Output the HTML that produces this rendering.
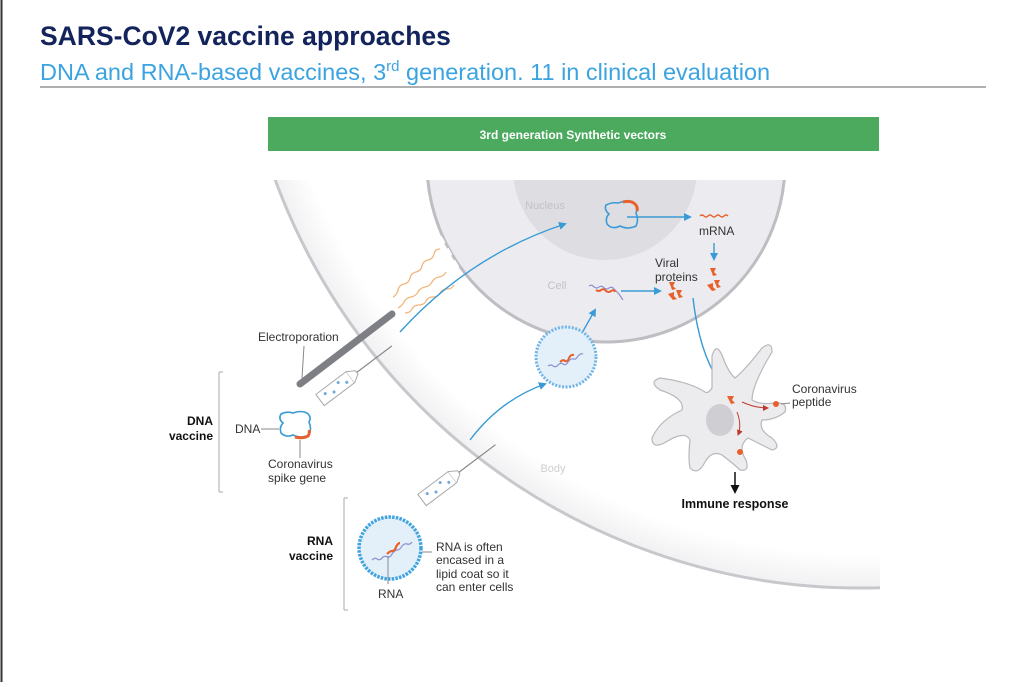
<!DOCTYPE html>
<html><head><meta charset="utf-8"><style>
html,body{margin:0;padding:0;background:#fff;}
body{width:1024px;height:682px;overflow:hidden;position:relative;font-family:"Liberation Sans",sans-serif;}
</style></head><body>
<svg width="1024" height="682" viewBox="0 0 1024 682" xmlns="http://www.w3.org/2000/svg" font-family="Liberation Sans, sans-serif">
<defs>
<clipPath id="ill"><rect x="228" y="180" width="652" height="440"/></clipPath>
<radialGradient id="bodyg" cx="860" cy="-35" r="640" gradientUnits="userSpaceOnUse">
<stop offset="0.92" stop-color="#ffffff"/><stop offset="0.98" stop-color="#efeff1"/><stop offset="1" stop-color="#e6e6e8"/>
</radialGradient>
<marker id="ab" markerWidth="8" markerHeight="8" refX="6" refY="4" orient="auto" markerUnits="userSpaceOnUse"><path d="M0,0 L8,4 L0,8 z" fill="#3a9bd6"/></marker>
<marker id="ak" markerWidth="9" markerHeight="9" refX="6" refY="4.5" orient="auto" markerUnits="userSpaceOnUse"><path d="M0,0 L9,4.5 L0,9 z" fill="#111"/></marker>
<marker id="ar" markerWidth="6" markerHeight="6" refX="5" refY="3" orient="auto" markerUnits="userSpaceOnUse"><path d="M0,0 L6,3 L0,6 z" fill="#c0392b"/></marker>
</defs>
<line x1="1.5" y1="0" x2="1.5" y2="682" stroke="#333" stroke-width="2"/>
<text x="40" y="45" font-size="26.5" font-weight="bold" fill="#13235b">SARS-CoV2 vaccine approaches</text>
<text x="40" y="80" font-size="23.5" fill="#3ba3e0">DNA and RNA-based vaccines, 3<tspan font-size="15" dy="-9">rd</tspan><tspan dy="9"> generation. 11 in clinical evaluation</tspan></text>
<line x1="40" y1="87" x2="986" y2="87" stroke="#b0b0b0" stroke-width="2"/>
<rect x="268" y="117" width="611" height="34" fill="#4caa5e"/>
<text x="573" y="139" font-size="12" font-weight="bold" fill="#fff" text-anchor="middle">3rd generation Synthetic vectors</text>

<g clip-path="url(#ill)">
<circle cx="860" cy="-35" r="623" fill="url(#bodyg)" stroke="#c8c8cc" stroke-width="3"/>
<circle cx="606" cy="163" r="179" fill="#ececf0" stroke="#bdbdc2" stroke-width="3"/>
<circle cx="605" cy="168" r="92" fill="#dedee2"/>
<path d="M432 225 L470 292" stroke="#fff" stroke-width="6" stroke-dasharray="8 6"/>
</g>
<text x="545" y="209" font-size="11" fill="#c2c2c6" text-anchor="middle">Nucleus</text>
<text x="557" y="289" font-size="11" fill="#c2c2c6" text-anchor="middle">Cell</text>
<text x="553" y="472" font-size="11" fill="#cfcfd2" text-anchor="middle">Body</text>

<g fill="none" stroke="#f2b57a" stroke-width="1.3">
<path d="M393 297 q4 -2 5 -7 q1 -5 6 -6 q5 -1 6 -6 q1 -5 6 -6 q5 -1 6 -6 q1 -5 6 -6 q5 -1 6 -6 q1 -5 6 -5"/>
<path d="M398 308 q4 -2 6 -6 q2 -4 7 -5 q5 -1 7 -5 q2 -4 7 -5 q5 -1 7 -5 q2 -4 7 -5 q5 -1 7 -5"/>
<path d="M405 313 q5 0 7 -4 q2 -4 7 -4 q5 0 7 -4 q2 -4 7 -4 q5 0 7 -4 q2 -4 7 -4 q5 0 7 -4"/>
</g>
<line x1="300" y1="384" x2="392" y2="314" stroke="#7d7f84" stroke-width="7" stroke-linecap="round"/>
<text x="258" y="341" font-size="12" fill="#333">Electroporation</text>
<line x1="304" y1="346" x2="302" y2="378" stroke="#888" stroke-width="1"/>
<g transform="translate(336,388) rotate(-37)">
<rect x="-20" y="-7" width="38" height="14" fill="#fff" stroke="#aaa" stroke-width="1"/>
<path d="M18 -7 L26 -2 L26 2 L18 7" fill="#fff" stroke="#aaa"/>
<line x1="26" y1="0" x2="70" y2="0" stroke="#888" stroke-width="1.2"/>
<circle cx="-12" cy="-2" r="1.5" fill="#6fa8dc"/><circle cx="-4" cy="2" r="1.5" fill="#6fa8dc"/><circle cx="5" cy="-3" r="1.5" fill="#6fa8dc"/><circle cx="12" cy="2" r="1.5" fill="#6fa8dc"/>
</g>
<g transform="translate(438,488) rotate(-37)">
<rect x="-20" y="-7" width="38" height="14" fill="#fff" stroke="#aaa" stroke-width="1"/>
<path d="M18 -7 L26 -2 L26 2 L18 7" fill="#fff" stroke="#aaa"/>
<line x1="26" y1="0" x2="72" y2="0" stroke="#888" stroke-width="1.2"/>
<circle cx="-12" cy="-2" r="1.5" fill="#6fa8dc"/><circle cx="-4" cy="2" r="1.5" fill="#6fa8dc"/><circle cx="5" cy="-3" r="1.5" fill="#6fa8dc"/><circle cx="12" cy="2" r="1.5" fill="#6fa8dc"/>
</g>

<g fill="none" stroke="#3a9bd6" stroke-width="1.4" marker-end="url(#ab)">
<path d="M400 332 Q470 255 565 224"/>
<path d="M627 217 L690 217"/>
<path d="M714 243 L714 259"/>
<path d="M621 291 L660 291"/>
<path d="M578 340 L595 310"/>
<path d="M470 440 Q500 400 545 384"/>
<path d="M693 298 Q700 360 726 391"/>
</g>

<path d="M606 205 q6 -3 12 -2 q8 -3 15 0 q6 4 3 10 q3 7 0 13 q-8 4 -16 0 q-8 4 -13 -2 q-2 -6 2 -10 q-5 -4 -3 -9z" fill="none" stroke="#3a9bd6" stroke-width="1.6"/>
<path d="M623 202 q8 -2 12 2 q3 3 2 7" fill="none" stroke="#e8602c" stroke-width="3"/>
<path d="M700 216 q2 -2 4 0 q2 2 4 0 q2 -2 4 0 q2 2 4 0 q2 -2 4 0 q2 2 4 0 q2 -2 4 0" fill="none" stroke="#e8602c" stroke-width="1.3"/>
<text x="699" y="235" font-size="12" fill="#333">mRNA</text>
<text x="655" y="267" font-size="12" fill="#333">Viral</text>
<text x="655" y="281" font-size="12" fill="#333">proteins</text>
<g fill="#e8602c">
<path d="M710 268 l6 0 l-2 4 l3 3 l-4 1 l-1 -3z"/><path d="M714 280 l6 0 l-2 4 l3 3 l-4 1 l-1 -3z"/><path d="M707 285 l6 -2 l0 4 l3 3 l-4 1z"/>
<path d="M669 282 l6 0 l-2 4 l3 3 l-4 1 l-1 -3z"/><path d="M676 290 l6 0 l-2 4 l3 3 l-4 1 l-1 -3z"/><path d="M668 294 l6 -2 l0 4 l3 3 l-4 1z"/>
</g>
<path d="M589 286 q3 -2 5 1 q3 2 5 0 q3 -2 5 1 q3 2 5 0 q3 -2 5 1 q3 3 5 5 q2 3 4 6" fill="none" stroke="#8a8fd0" stroke-width="1.2"/>
<path d="M596 290 q3 2 5 0 q3 -2 5 1 q3 2 5 0 q3 -2 4 1" fill="none" stroke="#e8602c" stroke-width="2"/>

<circle cx="566" cy="357" r="30" fill="#e3f0fa" stroke="#6fb4e6" stroke-width="3" stroke-dasharray="2 1.5"/>
<path d="M548 366 q3 -2 5 0 q3 2 5 -1 q3 -3 5 -1 q3 2 5 -2 q3 -4 5 -3 q3 1 5 -3 q3 -3 5 -2" fill="none" stroke="#8a8fd0" stroke-width="1.2"/>
<path d="M560 362 q3 -3 5 -1 q3 1 4 -3 q2 -4 5 -3" fill="none" stroke="#e8602c" stroke-width="2"/>

<path d="M705 392 Q690 382 660 378 Q648 382 660 390 Q685 398 682 410 Q660 420 652 438 Q652 450 666 442 Q685 430 690 440 Q688 458 690 468 Q698 476 705 462 Q712 450 722 455 Q735 465 740 470 Q750 472 746 460 Q737 446 748 438 Q760 444 772 450 Q782 448 772 438 Q758 430 762 420 Q775 420 785 412 Q788 402 775 403 Q760 405 752 400 Q752 385 772 352 Q772 340 762 348 Q745 370 735 378 Q728 372 722 355 Q716 342 712 356 Q712 375 712 388 Q708 394 705 392Z" fill="#ececee" stroke="#b8b8bc" stroke-width="1.2"/>
<ellipse cx="720" cy="420" rx="14" ry="16" fill="#cfcfd3"/>
<path d="M727 396 l7 0 l-2 4 l3 3 l-4 1z" fill="#e8602c"/>
<path d="M742 402 Q755 408 768 408" fill="none" stroke="#c0392b" stroke-width="1" marker-end="url(#ar)"/>
<path d="M737 412 Q742 425 738 435" fill="none" stroke="#c0392b" stroke-width="1" marker-end="url(#ar)"/>
<circle cx="776" cy="404" r="3" fill="#e8602c"/><circle cx="740" cy="452" r="3" fill="#e8602c"/>
<line x1="781" y1="404" x2="790" y2="403" stroke="#888"/>
<text x="792" y="393" font-size="12" fill="#333">Coronavirus</text>
<text x="792" y="406" font-size="12" fill="#333">peptide</text>
<line x1="735" y1="472" x2="735" y2="491" stroke="#111" stroke-width="1.5" marker-end="url(#ak)"/>
<text x="735" y="508" font-size="12.5" font-weight="bold" fill="#111" text-anchor="middle">Immune response</text>

<line x1="223" y1="372" x2="219" y2="372" stroke="#aaa"/><line x1="219" y1="372" x2="219" y2="492" stroke="#aaa"/><line x1="219" y1="492" x2="223" y2="492" stroke="#aaa"/>
<text x="213" y="425" font-size="12" font-weight="bold" fill="#111" text-anchor="end">DNA</text>
<text x="213" y="440" font-size="12" font-weight="bold" fill="#111" text-anchor="end">vaccine</text>
<path d="M281 414 q6 -3 12 -1 q8 -3 14 0 q5 4 2 9 q3 7 0 13 q-8 4 -16 0 q-7 3 -12 -2 q-2 -6 2 -10 q-5 -4 -2 -9z" fill="none" stroke="#3a9bd6" stroke-width="1.6"/>
<path d="M295 437 q8 2 13 -1 q2 -3 1 -6" fill="none" stroke="#e8602c" stroke-width="3"/>
<text x="235" y="433" font-size="12" fill="#333">DNA</text>
<line x1="261" y1="429" x2="279" y2="429" stroke="#888"/>
<line x1="300" y1="440" x2="300" y2="458" stroke="#888"/>
<text x="268" y="468" font-size="12" fill="#333">Coronavirus</text>
<text x="268" y="482" font-size="12" fill="#333">spike gene</text>

<line x1="348" y1="498" x2="344" y2="498" stroke="#aaa"/><line x1="344" y1="498" x2="344" y2="610" stroke="#aaa"/><line x1="344" y1="610" x2="348" y2="610" stroke="#aaa"/>
<text x="333" y="545" font-size="12" font-weight="bold" fill="#111" text-anchor="end">RNA</text>
<text x="333" y="560" font-size="12" font-weight="bold" fill="#111" text-anchor="end">vaccine</text>
<circle cx="390" cy="548" r="31" fill="#e3f0fa" stroke="#3fa3e0" stroke-width="3.5" stroke-dasharray="2.5 1.2"/>
<path d="M372 560 q3 -3 5 -1 q3 2 5 -1 q3 -3 5 -1 q3 1 5 -3 q3 -4 5 -4 q3 0 5 -4 q3 -3 5 -2 q3 1 5 -2" fill="none" stroke="#8a8fd0" stroke-width="1.2"/>
<path d="M387 554 q3 -3 5 -3 q3 0 4 -4 q2 -4 4 -4" fill="none" stroke="#e8602c" stroke-width="2.2"/>
<line x1="388" y1="556" x2="388" y2="584" stroke="#888"/>
<text x="378" y="598" font-size="12" fill="#333">RNA</text>
<line x1="422" y1="552" x2="432" y2="552" stroke="#888"/>
<text x="436" y="551" font-size="12" fill="#333">RNA is often</text>
<text x="436" y="564" font-size="12" fill="#333">encased in a</text>
<text x="436" y="578" font-size="12" fill="#333">lipid coat so it</text>
<text x="436" y="591" font-size="12" fill="#333">can enter cells</text>
</svg>
</body></html>
